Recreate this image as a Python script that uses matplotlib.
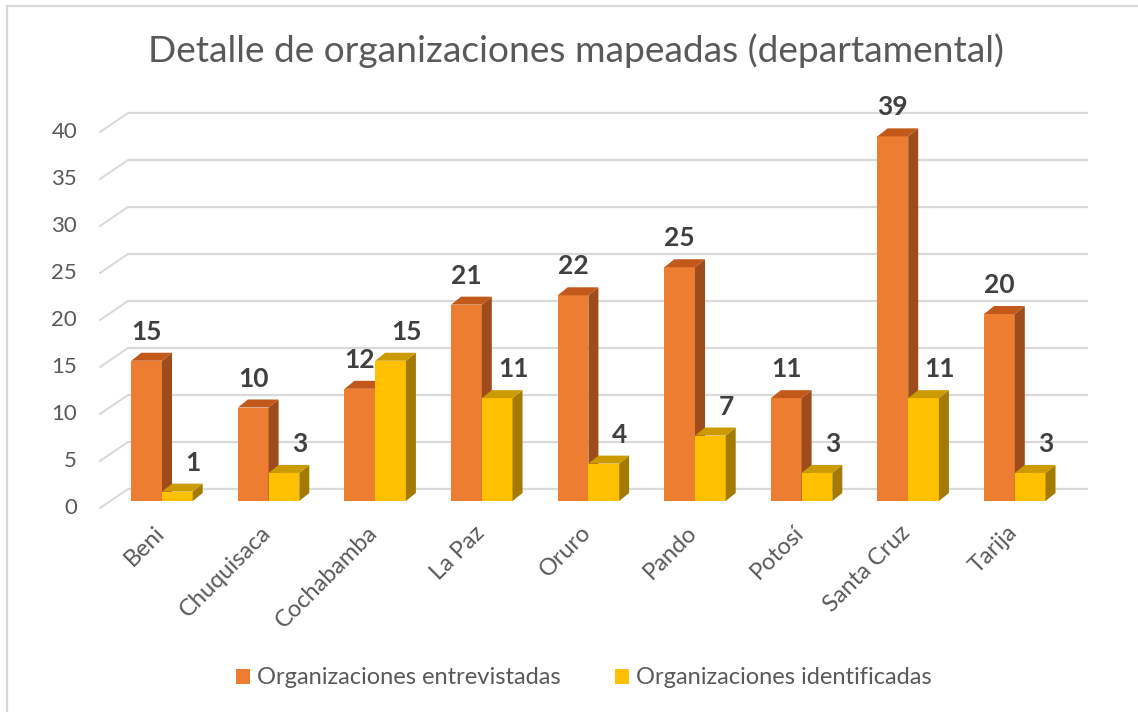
import matplotlib
matplotlib.use('Agg')
import matplotlib.pyplot as plt
from matplotlib.patches import Polygon, Patch
from matplotlib.lines import Line2D

plt.rcParams['font.family'] = ['Lato', 'DejaVu Sans']

# datos
departamentos = ['Beni', 'Chuquisaca', 'Cochabamba', 'La Paz', 'Oruro',
                 'Pando', 'Potosí', 'Santa Cruz', 'Tarija']
entrevistadas = [15, 10, 12, 21, 22, 25, 11, 39, 20]
identificadas = [1, 3, 15, 11, 4, 7, 3, 11, 3]
ticks = [0, 5, 10, 15, 20, 25, 30, 35, 40]
series = ['Organizaciones entrevistadas', 'Organizaciones identificadas']
titulo = 'Detalle de organizaciones mapeadas (departamental)'

# colores (frente, lado, tapa)
naranja = ('#ED7D31', '#9E4C1C', '#C2591B')
amarillo = ('#FFC000', '#A47B00', '#CC9B00')
gris_txt = '#595959'
gris_val = '#404040'
gris_grid = '#D9D9D9'

W, H = 1138, 712
fig = plt.figure(figsize=(W / 100, H / 100), dpi=100)
ax = fig.add_axes([0, 0, 1, 1])

# escala: 1 categoria = 106.6 px, 1 unidad = 9.35 px
cx, cw = 162, 106.6
by, vh = 501, 9.35
ax.set_xlim((0 - cx) / cw, (W - cx) / cw)
ax.set_ylim((by - H) / vh, by / vh)
ax.axis('off')

w = 0.288          # ancho de barra
dx, dy = 10 / cw, 8 / vh   # profundidad de barra
# pared de fondo y borde frontal
xb0, xb1 = (128 - cx) / cw, (1088 - cx) / cw
xf0 = (100 - cx) / cw


def y_fondo(v):
    return v * 9.4 / vh + 12 / vh


def y_frente(v):
    return v * 9.4 / vh - 7 / vh


for t in ticks:
    ax.plot([xb0, xb1], [y_fondo(t), y_fondo(t)], color=gris_grid, lw=1.6, zorder=1,
            solid_capstyle='butt')
    ax.plot([xf0, xb0], [y_frente(t), y_fondo(t)], color=gris_grid, lw=1.4, zorder=1)
    ax.text(xf0 - 0.215, y_frente(t), str(t), ha='right', va='center',
            fontsize=16, color=gris_txt)


def barra(x0, v, cols):
    x1 = x0 + w
    ax.add_patch(Polygon([(x0, 0), (x1, 0), (x1, v), (x0, v)], closed=True,
                         fc=cols[0], ec='none', zorder=3))
    ax.add_patch(Polygon([(x1, 0), (x1 + dx, dy), (x1 + dx, v + dy), (x1, v)],
                         closed=True, fc=cols[1], ec='none', zorder=3))
    ax.add_patch(Polygon([(x0, v), (x1, v), (x1 + dx, v + dy), (x0 + dx, v + dy)],
                         closed=True, fc=cols[2], ec='none', zorder=3))


for i, (a, b) in enumerate(zip(entrevistadas, identificadas)):
    barra(i - w, a, naranja)
    barra(i, b, amarillo)
    ax.text(i - w / 2, a + 3.1, str(a), ha='center', va='center',
            fontsize=19, fontweight='bold', color=gris_val, zorder=5)
    ax.text(i + w / 2 + 0.15, b + 3.1, str(b), ha='center', va='center',
            fontsize=19, fontweight='bold', color=gris_val, zorder=5)
    ax.text(i - 0.08, (by - 522) / vh, departamentos[i], ha='right', va='top',
            rotation=45, rotation_mode='anchor', fontsize=17, color=gris_txt)

ax.text((576 - cx) / cw, (by - 62) / vh, titulo, ha='center', va='baseline',
        fontsize=26.7, color=gris_txt)

handles = [Patch(fc=naranja[0], ec='none'), Patch(fc=amarillo[0], ec='none')]
fig.legend(handles, series, loc='center', bbox_to_anchor=(584 / W, 1 - 678 / H),
           ncol=2, frameon=False, fontsize=17, handlelength=0.6, handleheight=0.6,
           handletextpad=0.3, columnspacing=2.3, labelcolor=gris_txt)

# borde del grafico
fig.add_artist(Line2D([7 / W, 7 / W], [0, 1 - 6 / H], color=gris_grid, lw=1.6))
fig.add_artist(Line2D([7 / W, 1], [1 - 6 / H, 1 - 6 / H], color=gris_grid, lw=1.6))

fig.savefig('out.png', dpi=100)
